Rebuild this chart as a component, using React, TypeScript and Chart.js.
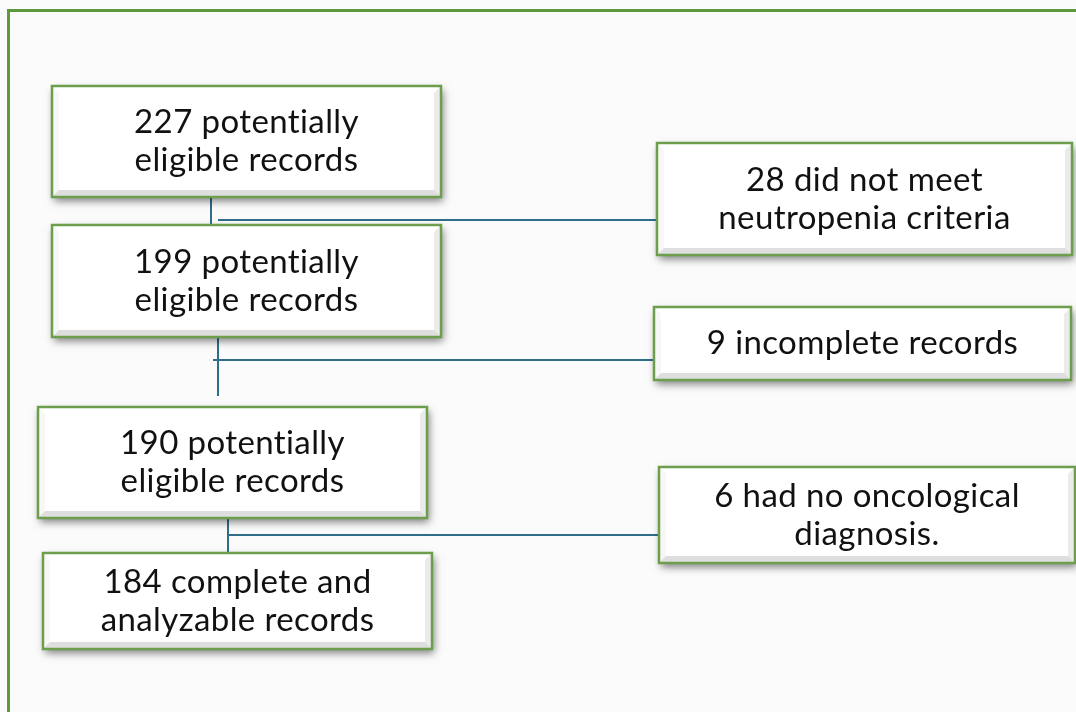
import React, { useEffect, useRef } from "react";
import { Chart, registerables } from "chart.js";

Chart.register(...registerables);

// Counts in the flow
const includedCounts = [227, 199, 190, 184];
const excludedCounts = [28, 9, 6];

// Box texts (lines)
const mainLabels: string[][] = [
  [`${includedCounts[0]} potentially`, "eligible records"],
  [`${includedCounts[1]} potentially`, "eligible records"],
  [`${includedCounts[2]} potentially`, "eligible records"],
  [`${includedCounts[3]} complete and`, "analyzable records"],
];
const sideLabels: string[][] = [
  [`${excludedCounts[0]} did not meet`, "neutropenia criteria"],
  [`${excludedCounts[1]} incomplete records`],
  [`${excludedCounts[2]} had no oncological`, "diagnosis."],
];

// Layout in the plot's coordinate units (x: 0..1076, y: 0..712 downward)
const mainLeft = [52, 52, 38, 43];
const mainRight = [441, 441, 427, 432];
const mainTop = [86, 225, 407, 553];
const mainBottom = [197, 337, 518, 649];

const sideLeft = [657, 654, 659];
const sideRight = [1072, 1071, 1075];
const sideTop = [143, 307, 467];
const sideBottom = [255, 380, 563];

// connectors: vertical x, vertical y range, horizontal y, horizontal x range
const connVX = [211, 218, 228];
const connVY0 = [197, 333, 502];
const connVY1 = [225, 396, 553];
const connHY = [220, 360, 535];
const connHX0 = [218, 213, 228];
const connHX1 = [657, 654, 659];

const FONT = "Lato, 'Open Sans', sans-serif";

const flowPlugin = {
  id: "flow",
  beforeDraw(chart: any) {
    const { ctx } = chart;
    const xs = chart.scales.x;
    const ys = chart.scales.y;
    const X = (v: number) => xs.getPixelForValue(v);
    const Y = (v: number) => ys.getPixelForValue(v);
    ctx.save();
    ctx.fillStyle = "#fbfbfb";
    ctx.fillRect(0, 0, chart.width, chart.height);
    // outer frame
    ctx.strokeStyle = "#5c9a3c";
    ctx.lineWidth = 3;
    ctx.beginPath();
    ctx.moveTo(X(8.5), Y(712));
    ctx.lineTo(X(8.5), Y(10.5));
    ctx.lineTo(X(1076), Y(10.5));
    ctx.stroke();
    ctx.restore();
  },
  afterDatasetsDraw(chart: any) {
    const { ctx } = chart;
    const xs = chart.scales.x;
    const ys = chart.scales.y;
    const X = (v: number) => xs.getPixelForValue(v);
    const Y = (v: number) => ys.getPixelForValue(v);

    // connectors
    ctx.save();
    ctx.strokeStyle = "#2f6d89";
    ctx.lineWidth = 2;
    for (let i = 0; i < connVX.length; i++) {
      ctx.beginPath();
      ctx.moveTo(X(connVX[i]), Y(connVY0[i]));
      ctx.lineTo(X(connVX[i]), Y(connVY1[i]));
      ctx.moveTo(X(connHX0[i]), Y(connHY[i]));
      ctx.lineTo(X(connHX1[i]), Y(connHY[i]));
      ctx.stroke();
    }
    ctx.restore();

    const drawBox = (l: number, r: number, t: number, b: number, lines: string[]) => {
      const x0 = X(l), x1 = X(r), y0 = Y(t), y1 = Y(b);
      const w = x1 - x0, h = y1 - y0;
      ctx.save();
      ctx.shadowColor = "rgba(0,0,0,0.5)";
      ctx.shadowBlur = 8;
      ctx.shadowOffsetX = 2;
      ctx.shadowOffsetY = 4;
      ctx.fillStyle = "#ffffff";
      ctx.fillRect(x0, y0, w, h);
      ctx.restore();
      // bevel
      ctx.save();
      const bev = 7;
      ctx.fillStyle = "rgba(0,0,0,0.13)";
      ctx.beginPath();
      ctx.moveTo(x0, y1);
      ctx.lineTo(x1, y1);
      ctx.lineTo(x1 - bev, y1 - bev);
      ctx.lineTo(x0 + bev, y1 - bev);
      ctx.closePath();
      ctx.fill();
      ctx.fillStyle = "rgba(0,0,0,0.08)";
      ctx.beginPath();
      ctx.moveTo(x1, y0);
      ctx.lineTo(x1, y1);
      ctx.lineTo(x1 - bev, y1 - bev);
      ctx.lineTo(x1 - bev, y0 + bev);
      ctx.closePath();
      ctx.fill();
      ctx.fillStyle = "rgba(0,0,0,0.03)";
      ctx.beginPath();
      ctx.moveTo(x0, y0);
      ctx.lineTo(x0, y1);
      ctx.lineTo(x0 + bev, y1 - bev);
      ctx.lineTo(x0 + bev, y0 + bev);
      ctx.closePath();
      ctx.fill();
      ctx.strokeStyle = "#6c9e4c";
      ctx.lineWidth = 2.5;
      ctx.strokeRect(x0, y0, w, h);
      // text
      ctx.fillStyle = "#111111";
      ctx.font = `33px ${FONT}`;
      (ctx as any).letterSpacing = "0.4px";
      ctx.textAlign = "center";
      ctx.textBaseline = "middle";
      const lh = 38;
      const cx = (x0 + x1) / 2;
      const cy = (y0 + y1) / 2;
      const start = cy - ((lines.length - 1) * lh) / 2;
      lines.forEach((ln, k) => ctx.fillText(ln, cx, start + k * lh));
      ctx.restore();
    };

    for (let i = 0; i < mainLabels.length; i++) {
      drawBox(mainLeft[i], mainRight[i], mainTop[i], mainBottom[i], mainLabels[i]);
    }
    for (let i = 0; i < sideLabels.length; i++) {
      drawBox(sideLeft[i], sideRight[i], sideTop[i], sideBottom[i], sideLabels[i]);
    }
  },
};

export default function App() {
  const ref = useRef<HTMLCanvasElement>(null);
  useEffect(() => {
    if (!ref.current) return;
    const chart = new Chart(ref.current, {
      type: "scatter",
      data: {
        datasets: [
          {
            data: [],
            pointRadius: 0,
          },
        ],
      },
      options: {
        animation: false,
        responsive: false,
        maintainAspectRatio: false,
        layout: { padding: 0 },
        plugins: {
          legend: { display: false },
          tooltip: { enabled: false },
          title: { display: false },
        },
        scales: {
          x: { type: "linear", min: 0, max: 1076, display: false },
          y: { type: "linear", min: 0, max: 712, reverse: true, display: false },
        },
      },
      plugins: [flowPlugin],
    });
    return () => chart.destroy();
  }, []);
  return (
    <div style={{ position: "fixed", left: 0, top: 0, width: 1076, height: 712 }}>
      <canvas ref={ref} width={1076} height={712} />
    </div>
  );
}
